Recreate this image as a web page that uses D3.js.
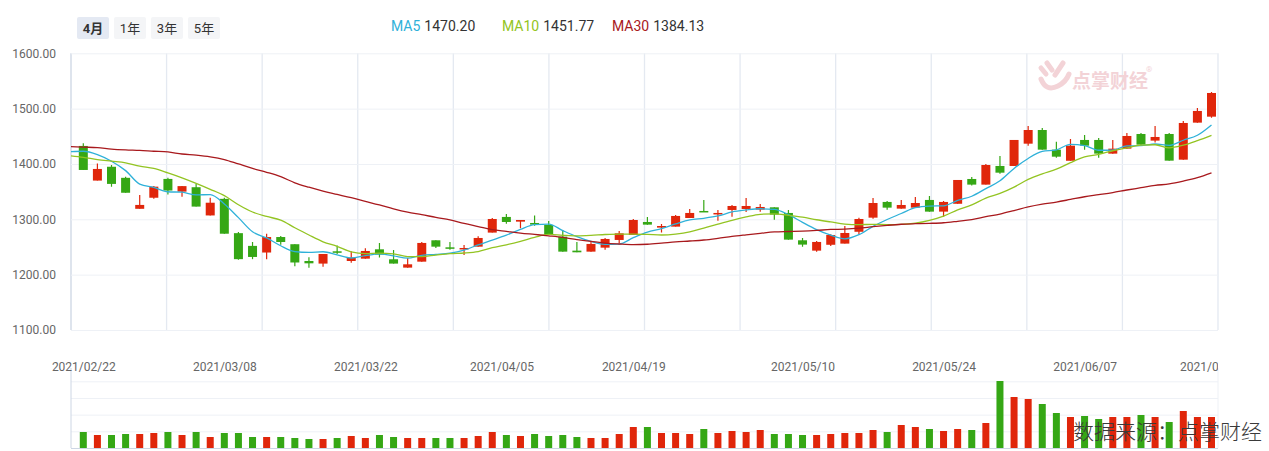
<!DOCTYPE html>
<html>
<head>
<meta charset="utf-8">
<script src="https://cdn.jsdelivr.net/npm/d3@7/dist/d3.min.js"></script>
<style>
  body { margin: 0; background: #fff; }
  svg text { font-family: Roboto, "Noto Sans CJK SC", sans-serif; }
</style>
</head>
<body>
<svg id="chart" width="1269" height="451"></svg>
<script>
// trading days shown (4 months)
const dates = [
  "2021/02/22","2021/02/23","2021/02/24","2021/02/25","2021/02/26",
  "2021/03/01","2021/03/02","2021/03/03","2021/03/04","2021/03/05",
  "2021/03/08","2021/03/09","2021/03/10","2021/03/11","2021/03/12",
  "2021/03/15","2021/03/16","2021/03/17","2021/03/18","2021/03/19",
  "2021/03/22","2021/03/23","2021/03/24","2021/03/25","2021/03/26",
  "2021/03/29","2021/03/30","2021/03/31","2021/04/01","2021/04/02",
  "2021/04/06","2021/04/07","2021/04/08","2021/04/09",
  "2021/04/12","2021/04/13","2021/04/14","2021/04/15","2021/04/16",
  "2021/04/19","2021/04/20","2021/04/21","2021/04/22","2021/04/23",
  "2021/04/26","2021/04/27","2021/04/28","2021/04/29","2021/04/30",
  "2021/05/06","2021/05/07",
  "2021/05/10","2021/05/11","2021/05/12","2021/05/13","2021/05/14",
  "2021/05/17","2021/05/18","2021/05/19","2021/05/20","2021/05/21",
  "2021/05/24","2021/05/25","2021/05/26","2021/05/27","2021/05/28",
  "2021/05/31","2021/06/01","2021/06/02","2021/06/03","2021/06/04",
  "2021/06/07","2021/06/08","2021/06/09","2021/06/10","2021/06/11",
  "2021/06/15","2021/06/16","2021/06/17","2021/06/18","2021/06/21"
];

const opens = [
  1432.6, 1370, 1395, 1375, 1319, 1339, 1373, 1350, 1358, 1307,
  1337, 1275, 1252, 1240, 1268, 1255, 1224.7, 1220, 1242.2, 1224.7,
  1228.9, 1245.8, 1227.8, 1212.7, 1223.5, 1262.1, 1249.4, 1247, 1250.6, 1276,
  1304.3, 1295.8, 1293.4, 1289.8, 1268.7, 1243.4, 1241.6, 1248.8, 1262.7, 1271.7,
  1295.2, 1285, 1286.8, 1302.4, 1315.1, 1309.1, 1316.9, 1318.7, 1317.5, 1321.7,
  1311.5, 1262.1, 1243.4, 1254, 1256.1, 1277.5, 1303, 1331.4, 1319.3, 1321.1,
  1335, 1313.9, 1328.1, 1372.9, 1362.7, 1396.4, 1396.4, 1436.7, 1461.4, 1425.9,
  1405.8, 1443.4, 1443.4, 1418.7, 1427.7, 1454.2, 1442.2, 1454.2, 1407.8, 1474.7,
  1485.5
];
const highs = [
  1437.4, 1401, 1398, 1377, 1344, 1360, 1375, 1360, 1364, 1339,
  1339, 1277, 1259, 1274, 1270, 1255, 1231.5, 1237.4, 1252.5, 1242.2,
  1247.6, 1257.3, 1244.6, 1230.2, 1259.1, 1262.1, 1259, 1253.7, 1269.3, 1302.4,
  1309.7, 1298.8, 1306.7, 1297, 1280.8, 1259.1, 1259.1, 1266.3, 1279, 1300.6,
  1304.3, 1291.6, 1307.9, 1318.7, 1334.9, 1316.9, 1325.9, 1338.6, 1327.7, 1321.7,
  1316.9, 1266.3, 1260.9, 1273, 1288, 1303, 1338.7, 1333.2, 1334.9, 1340.4,
  1342.2, 1333.2, 1371.1, 1376.5, 1400, 1414.5, 1443.4, 1468.7, 1465, 1440.1,
  1445, 1452.4, 1446.8, 1443.4, 1456, 1456, 1468.7, 1456, 1477.7, 1501.2,
  1530.1
];
const lows = [
  1389.2, 1370, 1359, 1348, 1319, 1337, 1345, 1341, 1323, 1307,
  1274, 1227, 1228, 1228, 1254, 1215, 1212.7, 1214.5, 1237.4, 1221.7,
  1228.9, 1231, 1220, 1212.7, 1223.5, 1248.2, 1245.2, 1235.6, 1250.6, 1276,
  1292.2, 1283.8, 1288.6, 1272.3, 1241.6, 1240.4, 1241.6, 1245.2, 1256.7, 1271.7,
  1290.4, 1276, 1286.8, 1302.4, 1313.3, 1297.6, 1304.8, 1313.3, 1313.9, 1299.4,
  1263.3, 1250.6, 1241.6, 1252, 1256.1, 1273.5, 1301.2, 1317.5, 1319.3, 1321.1,
  1313.9, 1304.8, 1328.1, 1360.9, 1362.7, 1382.5, 1396.4, 1433.1, 1425.9, 1411.1,
  1405.8, 1425.9, 1411.1, 1418.7, 1427.7, 1434.9, 1438.6, 1406, 1407.8, 1474.7,
  1483.7
];
const closes = [
  1389.2, 1391, 1364, 1348, 1326, 1359, 1352, 1360, 1323, 1330,
  1274, 1228, 1232, 1268, 1259, 1222, 1220.5, 1237.4, 1239.8, 1230.8,
  1242.8, 1236.2, 1220, 1218.7, 1257.3, 1250.6, 1247, 1248.2, 1266.3, 1300.6,
  1295.2, 1298.8, 1290.4, 1272.3, 1241.6, 1240.4, 1255.5, 1264.5, 1274.7, 1298.8,
  1290.4, 1287.9, 1306.1, 1311.5, 1313.3, 1311.5, 1324.1, 1324.1, 1322.3, 1308.5,
  1263.3, 1254.3, 1259.1, 1271.7, 1275.3, 1300.6, 1329.5, 1321.1, 1325.9, 1329.5,
  1313.9, 1331.4, 1371.1, 1362.7, 1398.2, 1384.3, 1443.4, 1461.4, 1425.9, 1413.2,
  1433.1, 1433.1, 1418.7, 1427.7, 1450.6, 1434.9, 1448.8, 1406, 1474.1, 1495.8,
  1528.3
];
const volumes = [
  48, 39, 39, 42, 42, 45, 48, 39, 48, 33,
  45, 45, 33, 33, 33, 30, 27, 27, 30, 36,
  30, 39, 33, 30, 30, 30, 30, 30, 36, 48,
  39, 36, 42, 36, 39, 33, 30, 30, 42, 63,
  63, 45, 45, 42, 57, 45, 51, 48, 54, 42,
  42, 39, 39, 42, 45, 45, 54, 48, 69, 63,
  57, 51, 57, 54, 75, 201, 153, 147, 132, 105,
  93, 96, 87, 93, 93, 99, 93, 78, 111, 93,
  93
];

// moving-average values before a full window exists (from the day before 02/22)
const ma5Lead = [1422, 1423, 1417, 1405, 1388];
const ma10Lead = [1415, 1412, 1408, 1405, 1402, 1396, 1392, 1384, 1375, 1365];
const ma30Lead = [
  1431.5, 1430.5, 1429.5, 1427, 1425.5, 1424.5, 1423, 1421.7, 1418, 1416,
  1413, 1408, 1400, 1392, 1385, 1377, 1366, 1358, 1351, 1345,
  1339, 1332.5, 1326, 1319, 1313, 1308.5, 1303.5, 1299, 1292.5, 1287
];

const yTicks = [1100, 1200, 1300, 1400, 1500, 1600];
const tickLabels = ["2021/02/22","2021/03/08","2021/03/22","2021/04/05","2021/04/19","2021/05/10","2021/05/24","2021/06/07","2021/06/21"];
const tickAt = [0, 10, 20, 29.65, 39, 51, 61, 71, 80];
const periods = ["4月", "1年", "3年", "5年"];
const maNames = ["MA5", "MA10", "MA30"];
const maValues = ["1470.20", "1451.77", "1384.13"];
const maColors = ["#2fb1d9", "#93c422", "#a8191d"];

const UP = "#e0260b", DOWN = "#35a715";
const pLeft = 71, pRight = 1218, pTop = 53.3, pBottom = 330;
const volTop = 368, volBottom = 448;

const svg = d3.select("#chart");

const x = d3.scaleLinear().domain([0, dates.length - 1]).range([83.3, 1211.5]);
const y = d3.scaleLinear().domain([1100, 1600]).range([pBottom, pTop]);
const yv = d3.scaleLinear().domain([0, 240]).range([volBottom, volTop]);

const defs = svg.append("defs");
defs.append("clipPath").attr("id", "plotClip")
  .append("rect").attr("x", pLeft).attr("y", pTop - 2).attr("width", pRight - pLeft).attr("height", pBottom - pTop + 4);
defs.append("clipPath").attr("id", "labelClip")
  .append("rect").attr("x", 0).attr("y", 340).attr("width", pRight).attr("height", 60);

// period buttons
const btn = svg.append("g");
periods.forEach((p, i) => {
  const bx = [77, 114, 151, 188][i];
  btn.append("rect").attr("x", bx).attr("y", 17).attr("width", 32).attr("height", 22).attr("rx", 2)
    .attr("fill", i === 0 ? "#e4e9f3" : "#f4f5f7");
  btn.append("text").attr("x", bx + 16).attr("y", 32.5).attr("text-anchor", "middle")
    .attr("font-size", 13).attr("font-weight", i === 0 ? 700 : 400).attr("fill", "#333").text(p);
});

// MA legend
const lx = [391, 502, 612];
maNames.forEach((n, i) => {
  const t = svg.append("text").attr("x", lx[i]).attr("y", 31).attr("font-size", 14);
  t.append("tspan").attr("fill", maColors[i]).text(n);
  t.append("tspan").attr("fill", "#333").attr("dx", 4).text(maValues[i]);
});

// grid
const xGrid = d3.range(13).map(k => pLeft + k * (pRight - pLeft) / 12);
svg.append("g").selectAll("line").data(xGrid).join("line")
  .attr("x1", d => d).attr("x2", d => d).attr("y1", pTop).attr("y2", pBottom)
  .attr("stroke", (d, k) => k === 0 ? "#cdd6e4" : "#e4e9f1").attr("stroke-width", 1.3);

const yAxis = svg.append("g").attr("transform", `translate(${pLeft},0)`)
  .call(d3.axisLeft(y).tickValues(yTicks).tickFormat(d3.format(".2f")).tickSize(-(pRight - pLeft)).tickPadding(15));
yAxis.select(".domain").remove();
yAxis.selectAll("line").attr("stroke", "#eef1f6");
yAxis.selectAll("text").attr("fill", "#666").attr("font-size", 12);

// watermark
const wm = svg.append("g").attr("fill", "none").attr("stroke", "#f3d3d7").attr("stroke-width", 5).attr("stroke-linecap", "round");
wm.append("path").attr("d", "M1041,68 L1046,74");
wm.append("path").attr("d", "M1047,63 L1052,70");
wm.append("path").attr("d", "M1063,63 L1055,75");
wm.append("path").attr("d", "M1041,79 Q1046,92 1058,86 Q1066,82 1069,74");
svg.append("text").attr("x", 1072).attr("y", 88).attr("font-size", 19).attr("font-weight", 700)
  .attr("fill", "#f3d3d7").attr("font-family", "Noto Sans CJK SC").text("点掌财经");
svg.append("text").attr("x", 1146).attr("y", 72).attr("font-size", 8).attr("fill", "#f3d3d7").text("®");

// candles
const plot = svg.append("g").attr("clip-path", "url(#plotClip)");
const bw = 9;
const idx = d3.range(dates.length);
const col = i => closes[i] >= opens[i] ? UP : DOWN;
plot.selectAll(".wick").data(idx).join("line").attr("class", "wick")
  .attr("x1", i => x(i)).attr("x2", i => x(i))
  .attr("y1", i => y(highs[i])).attr("y2", i => y(lows[i]))
  .attr("stroke", col).attr("stroke-width", 1.2);
plot.selectAll(".body").data(idx).join("rect").attr("class", "body")
  .attr("x", i => x(i) - bw / 2).attr("width", bw)
  .attr("y", i => y(Math.max(opens[i], closes[i])))
  .attr("height", i => Math.max(1.5, Math.abs(y(opens[i]) - y(closes[i]))))
  .attr("fill", col);

// moving averages
function movingAvg(lead, n) {
  const pts = lead.map((v, k) => [k - 1, v]);
  for (let i = n - 1; i < closes.length; i++) {
    pts.push([i, d3.mean(closes.slice(i - n + 1, i + 1))]);
  }
  return pts;
}
const maSeries = [movingAvg(ma5Lead, 5), movingAvg(ma10Lead, 10), movingAvg(ma30Lead, 30)];
const line = d3.line().x(d => x(d[0])).y(d => y(d[1])).curve(d3.curveMonotoneX);
maSeries.forEach((s, i) => {
  plot.append("path").attr("d", line(s)).attr("fill", "none")
    .attr("stroke", maColors[i]).attr("stroke-width", 1.3);
});

// volume panel
const vAxis = svg.append("g").attr("transform", `translate(${pLeft},0)`)
  .call(d3.axisLeft(yv).ticks(5).tickSize(-(pRight - pLeft)).tickFormat(""));
vAxis.select(".domain").remove();
vAxis.selectAll("line").attr("stroke", d => d === 0 ? "#cdd6e4" : "#eef1f6");
svg.append("line").attr("x1", pLeft).attr("x2", pLeft).attr("y1", volTop).attr("y2", volBottom).attr("stroke", "#cdd6e4");
svg.append("line").attr("x1", pRight).attr("x2", pRight).attr("y1", volTop).attr("y2", volBottom).attr("stroke", "#eef1f6");

const vw = 7;
svg.append("g").selectAll("rect").data(idx).join("rect")
  .attr("x", i => x(i) - vw / 2).attr("width", vw)
  .attr("y", i => yv(volumes[i])).attr("height", i => volBottom - yv(volumes[i]))
  .attr("fill", col);

// date labels (clipped at the right edge of the plot)
const xAxis = svg.append("g").attr("clip-path", "url(#labelClip)")
  .append("g").attr("transform", "translate(0,362)")
  .call(d3.axisBottom(x).tickValues(tickAt).tickFormat((d, k) => tickLabels[k]).tickSize(0).tickPadding(0));
xAxis.select(".domain").remove();
xAxis.selectAll("text").attr("fill", "#666").attr("font-size", 12);

// source note
svg.append("text").attr("x", 1262).attr("y", 439).attr("text-anchor", "end")
  .attr("font-size", 21).attr("font-family", "Noto Sans CJK SC").attr("font-weight", 300)
  .attr("fill", "#3a3a3a").text("数据来源：点掌财经");
</script>
</body>
</html>
